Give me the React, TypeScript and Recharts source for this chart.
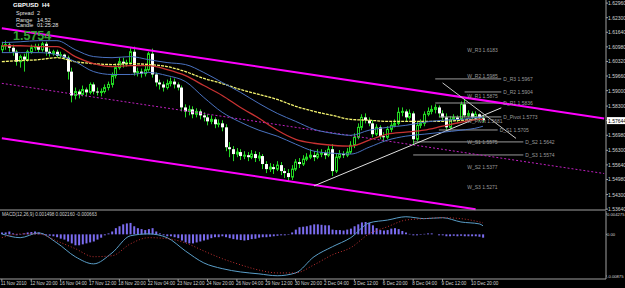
import React from 'react'
import { ComposedChart, Bar, Line, XAxis, YAxis, ReferenceLine, ReferenceDot } from 'recharts'

// GBPUSD H4, 11 Nov - 10 Dec 2010 (MT4 screenshot)
const SLOTS = 165 // 132 bars + empty chart shift on the right

const dateLabels = [
  '11 Nov 2010', '12 Nov 20:00', '16 Nov 04:00', '17 Nov 12:00', '18 Nov 20:00', '22 Nov 04:00',
  '23 Nov 12:00', '24 Nov 20:00', '26 Nov 04:00', '29 Nov 12:00', '30 Nov 20:00', '2 Dec 04:00',
  '3 Dec 12:00', '6 Dec 20:00', '8 Dec 04:00', '9 Dec 12:00', '10 Dec 20:00',
]
const dateIdx = [0, 8, 16, 24, 32, 40, 48, 56, 64, 72, 80, 88, 96, 104, 112, 120, 128]

const opens = [
  1.6085, 1.6103, 1.6108, 1.6094, 1.6076, 1.6031, 1.6054, 1.6040, 1.6076, 1.6094,
  1.6099, 1.6085, 1.6112, 1.6076, 1.6067, 1.6076, 1.6058, 1.6063, 1.6049, 1.5986,
  1.5878, 1.5896, 1.5883, 1.5905, 1.5892, 1.5928, 1.5896, 1.5892, 1.5896, 1.5914,
  1.5928, 1.5968, 1.6004, 1.6031, 1.6022, 1.6027, 1.6076, 1.5982, 1.5986, 1.5977,
  1.5995, 1.6067, 1.5973, 1.5937, 1.5928, 1.5914, 1.5932, 1.5941, 1.5928, 1.5914,
  1.5824, 1.5806, 1.5815, 1.5793, 1.5806, 1.5788, 1.5779, 1.5761, 1.5770, 1.5748,
  1.5752, 1.5734, 1.5644, 1.5635, 1.5613, 1.5622, 1.5604, 1.5608, 1.5599, 1.5613,
  1.5595, 1.5604, 1.5568, 1.5545, 1.5554, 1.5545, 1.5563, 1.5536, 1.5527, 1.5509,
  1.5545, 1.5577, 1.5568, 1.5590, 1.5599, 1.5608, 1.5599, 1.5613, 1.5617, 1.5608,
  1.5635, 1.5536, 1.5599, 1.5613, 1.5608, 1.5622, 1.5653, 1.5689, 1.5734, 1.5779,
  1.5766, 1.5752, 1.5703, 1.5734, 1.5694, 1.5689, 1.5725, 1.5743, 1.5752, 1.5802,
  1.5806, 1.5779, 1.5797, 1.5680, 1.5743, 1.5752, 1.5793, 1.5806, 1.5815, 1.5824,
  1.5797, 1.5779, 1.5734, 1.5770, 1.5779, 1.5770, 1.5838, 1.5788, 1.5797, 1.5779,
  1.5793, 1.5775,
]
const highs = [
  1.6121, 1.6126, 1.6117, 1.6108, 1.6085, 1.6063, 1.6067, 1.6085, 1.6108, 1.6112,
  1.6112, 1.6121, 1.6121, 1.6090, 1.6085, 1.6085, 1.6076, 1.6067, 1.6058, 1.6004,
  1.5914, 1.5905, 1.5923, 1.5914, 1.5937, 1.5937, 1.5914, 1.5910, 1.5928, 1.5941,
  1.5982, 1.6022, 1.6049, 1.6049, 1.6040, 1.6094, 1.6099, 1.6004, 1.6000, 1.6013,
  1.6076, 1.6090, 1.5982, 1.5950, 1.5941, 1.5950, 1.5959, 1.5955, 1.5937, 1.5923,
  1.5838, 1.5833, 1.5829, 1.5820, 1.5815, 1.5802, 1.5793, 1.5788, 1.5779, 1.5770,
  1.5766, 1.5748, 1.5667, 1.5649, 1.5640, 1.5635, 1.5626, 1.5622, 1.5631, 1.5626,
  1.5622, 1.5613, 1.5581, 1.5572, 1.5568, 1.5581, 1.5577, 1.5550, 1.5545, 1.5563,
  1.5590, 1.5595, 1.5608, 1.5617, 1.5635, 1.5626, 1.5635, 1.5635, 1.5631, 1.5649,
  1.5658, 1.5617, 1.5631, 1.5626, 1.5640, 1.5671, 1.5707, 1.5752, 1.5793, 1.5797,
  1.5779, 1.5766, 1.5748, 1.5743, 1.5712, 1.5739, 1.5757, 1.5770, 1.5824, 1.5824,
  1.5815, 1.5815, 1.5806, 1.5761, 1.5770, 1.5806, 1.5824, 1.5833, 1.5838, 1.5833,
  1.5811, 1.5797, 1.5784, 1.5793, 1.5788, 1.5851, 1.5860, 1.5811, 1.5806, 1.5806,
  1.5797, 1.5788,
]
const lows = [
  1.6072, 1.6085, 1.6076, 1.6058, 1.6013, 1.6004, 1.5986, 1.6031, 1.6067, 1.6081,
  1.6072, 1.6076, 1.6058, 1.6054, 1.6058, 1.6049, 1.6049, 1.6040, 1.5950, 1.5847,
  1.5860, 1.5865, 1.5874, 1.5874, 1.5883, 1.5883, 1.5878, 1.5874, 1.5887, 1.5901,
  1.5914, 1.5955, 1.5995, 1.6004, 1.6009, 1.6018, 1.5968, 1.5964, 1.5959, 1.5964,
  1.5986, 1.5959, 1.5919, 1.5905, 1.5896, 1.5905, 1.5919, 1.5910, 1.5901, 1.5806,
  1.5779, 1.5788, 1.5775, 1.5779, 1.5770, 1.5761, 1.5743, 1.5748, 1.5730, 1.5734,
  1.5716, 1.5626, 1.5599, 1.5581, 1.5599, 1.5586, 1.5590, 1.5581, 1.5590, 1.5577,
  1.5581, 1.5545, 1.5527, 1.5532, 1.5523, 1.5536, 1.5518, 1.5505, 1.5491, 1.5496,
  1.5536, 1.5550, 1.5559, 1.5581, 1.5590, 1.5581, 1.5590, 1.5599, 1.5590, 1.5599,
  1.5514, 1.5527, 1.5590, 1.5595, 1.5599, 1.5613, 1.5640, 1.5680, 1.5721, 1.5752,
  1.5739, 1.5689, 1.5694, 1.5680, 1.5667, 1.5680, 1.5712, 1.5734, 1.5743, 1.5784,
  1.5761, 1.5770, 1.5658, 1.5671, 1.5730, 1.5739, 1.5784, 1.5793, 1.5797, 1.5779,
  1.5766, 1.5721, 1.5725, 1.5761, 1.5757, 1.5766, 1.5779, 1.5779, 1.5766, 1.5770,
  1.5761, 1.5757,
]
const closes = [
  1.6103, 1.6108, 1.6094, 1.6076, 1.6031, 1.6054, 1.6040, 1.6076, 1.6094, 1.6099,
  1.6085, 1.6112, 1.6076, 1.6067, 1.6076, 1.6058, 1.6063, 1.6049, 1.5986, 1.5878,
  1.5896, 1.5883, 1.5905, 1.5892, 1.5928, 1.5896, 1.5892, 1.5896, 1.5914, 1.5928,
  1.5968, 1.6004, 1.6031, 1.6022, 1.6027, 1.6076, 1.5982, 1.5986, 1.5977, 1.5995,
  1.6067, 1.5973, 1.5937, 1.5928, 1.5914, 1.5932, 1.5941, 1.5928, 1.5914, 1.5824,
  1.5806, 1.5815, 1.5793, 1.5806, 1.5788, 1.5779, 1.5761, 1.5770, 1.5748, 1.5752,
  1.5734, 1.5644, 1.5635, 1.5613, 1.5622, 1.5604, 1.5608, 1.5599, 1.5613, 1.5595,
  1.5604, 1.5568, 1.5545, 1.5554, 1.5545, 1.5563, 1.5536, 1.5527, 1.5509, 1.5545,
  1.5577, 1.5568, 1.5590, 1.5599, 1.5608, 1.5599, 1.5613, 1.5617, 1.5608, 1.5635,
  1.5536, 1.5599, 1.5613, 1.5608, 1.5622, 1.5653, 1.5689, 1.5734, 1.5779, 1.5766,
  1.5752, 1.5703, 1.5734, 1.5694, 1.5689, 1.5725, 1.5743, 1.5752, 1.5802, 1.5806,
  1.5779, 1.5797, 1.5680, 1.5743, 1.5752, 1.5793, 1.5806, 1.5815, 1.5824, 1.5797,
  1.5779, 1.5734, 1.5770, 1.5779, 1.5770, 1.5838, 1.5788, 1.5797, 1.5779, 1.5793,
  1.5775, 1.5766,
]

// moving averages, read every 5 bars
const maIdx = [0, 5, 10, 15, 20, 25, 30, 35, 40, 45, 50, 55, 60, 65, 70, 75, 80, 85, 90, 95, 100, 105, 110, 115, 120, 125, 130, 131]
const maYellow = [1.6031, 1.6036, 1.6040, 1.6049, 1.6031, 1.6022, 1.6018, 1.6022, 1.6018, 1.6009, 1.5986, 1.5955, 1.5932, 1.5905, 1.5883, 1.5860, 1.5829, 1.5806, 1.5788, 1.5770, 1.5766, 1.5761, 1.5761, 1.5761, 1.5761, 1.5766, 1.5770, 1.5770]
const maRed = [1.6103, 1.6103, 1.6099, 1.6099, 1.6054, 1.6022, 1.6009, 1.6013, 1.6013, 1.5995, 1.5968, 1.5923, 1.5878, 1.5824, 1.5775, 1.5721, 1.5680, 1.5662, 1.5653, 1.5649, 1.5676, 1.5703, 1.5712, 1.5721, 1.5739, 1.5757, 1.5770, 1.5770]
const maBlueUp = [1.6117, 1.6121, 1.6126, 1.6126, 1.6085, 1.6054, 1.6049, 1.6054, 1.6040, 1.6027, 1.6018, 1.5982, 1.5937, 1.5892, 1.5842, 1.5797, 1.5761, 1.5725, 1.5707, 1.5698, 1.5721, 1.5734, 1.5743, 1.5757, 1.5766, 1.5770, 1.5779, 1.5779]
const maBlueDn = [1.6072, 1.6072, 1.6072, 1.6063, 1.6031, 1.5986, 1.5973, 1.5973, 1.5982, 1.5968, 1.5941, 1.5869, 1.5802, 1.5757, 1.5721, 1.5694, 1.5658, 1.5626, 1.5617, 1.5613, 1.5644, 1.5676, 1.5694, 1.5703, 1.5712, 1.5721, 1.5734, 1.5739]

// MACD(12,26,9)
const hist = [
  0.0004, 0.0004, 0.0006, 0.0002, -0.0002, -0.0001, 0.0002, 0.0004, 0.0005, 0.0006,
  0.0004, 0.0002, -0.0002, -0.0003, -0.0004, -0.0006, -0.0009, -0.0011, -0.0015, -0.0019,
  -0.0023, -0.0023, -0.0021, -0.0019, -0.0017, -0.0015, -0.0011, -0.0007, -0.0002, 0.0002,
  0.0006, 0.0013, 0.0017, 0.0021, 0.0023, 0.0024, 0.0017, 0.0013, 0.0011, 0.0009,
  0.0011, 0.0013, 0.0006, 0.0002, -0.0002, -0.0004, -0.0004, -0.0006, -0.0008, -0.0013,
  -0.0017, -0.0019, -0.0019, -0.0017, -0.0015, -0.0013, -0.0011, -0.0008, -0.0006, -0.0006,
  -0.0004, -0.0006, -0.0008, -0.0010, -0.0011, -0.0012, -0.0013, -0.0012, -0.0010, -0.0009,
  -0.0007, -0.0006, -0.0006, -0.0005, -0.0004, -0.0003, -0.0002, -0.0002, -0.0001, 0.0004,
  0.0010, 0.0015, 0.0016, 0.0017, 0.0019, 0.0021, 0.0021, 0.0020, 0.0019, 0.0019,
  0.0010, 0.0009, 0.0009, 0.0008, 0.0010, 0.0012, 0.0017, 0.0021, 0.0025, 0.0026,
  0.0024, 0.0019, 0.0013, 0.0009, 0.0008, 0.0009, 0.0012, 0.0013, 0.0011, 0.0007,
  0.0004, 0.0001, -0.0002, -0.0002, -0.0001, 0.0001, 0.0002, 0.0002, 0.0000, -0.0002,
  -0.0002, -0.0004, -0.0004, -0.0003, -0.0004, -0.0003, -0.0004, -0.0004, -0.0004, -0.0004,
  -0.0005, -0.0007,
]
const macdMain = [0.0001, -0.0007, 0.0003, -0.0018, -0.0047, -0.0062, -0.0039, -0.0003, 0.0001, -0.0007, -0.0035, -0.0060, -0.0072, -0.0079, -0.0083, -0.0087, -0.0081, -0.0047, -0.0026, -0.0007, 0.0024, 0.0030, 0.0037, 0.0033, 0.0035, 0.0026, 0.0022, 0.0018]
const macdSignal = [-0.0007, 0.0001, 0.0001, -0.0014, -0.0030, -0.0047, -0.0045, -0.0020, -0.0007, -0.0009, -0.0018, -0.0035, -0.0051, -0.0064, -0.0075, -0.0081, -0.0081, -0.0064, -0.0043, -0.0028, 0.0001, 0.0016, 0.0030, 0.0033, 0.0035, 0.0033, 0.0026, 0.0024]

const priceTicks = [1.6296, 1.6230, 1.6164, 1.6098, 1.6032, 1.5966, 1.5900, 1.5830, 1.5698, 1.5630, 1.5564, 1.5498, 1.5430, 1.5364]
const priceTickLabels = ['1.62960', '1.62300', '1.61640', '1.60980', '1.60320', '1.59660', '1.59000', '1.58300', '1.56980', '1.56300', '1.55640', '1.54980', '1.54300', '1.53640']
const bid = 1.57644
const macdTicks = [0.004275, 0, -0.00875]
const macdTickLabels = ['0.004275', '0.00', '-0.00875']

// channel and trend lines: [bar, price] end points
const channelUp = [[0, 1.6182], [164, 1.5774]]
const channelMid = [[0, 1.5933], [164, 1.5525]]
const channelLow = [[0, 1.5685], [129, 1.5363]]
const trendUp = [[85, 1.5469], [136, 1.5822]]
const trendDown = [[120, 1.5935], [140, 1.5684]]

const dayLevels = [
  { name: 'D_R3 1.5967', price: 1.5953, from: 118, to: 136 },
  { name: 'D_R2 1.5904', price: 1.5894, from: 126, to: 136 },
  { name: 'D_R1 1.5836', price: 1.5844, from: 118, to: 136 },
  { name: 'D_Pivot 1.5773', price: 1.5781, from: 119, to: 136 },
  { name: 'D_S1 1.5705', price: 1.5722, from: 119, to: 135 },
  { name: 'D_S2 1.5642', price: 1.5668, from: 112, to: 142 },
  { name: 'D_S3 1.5574', price: 1.5609, from: 112, to: 142 },
]
const weekLabels = [
  { name: 'W_R3 1.6183', price: 1.6084 },
  { name: 'W_R2 1.5985', price: 1.5966 },
  { name: 'W_R1 1.5875', price: 1.5876 },
  { name: 'W_Pivot 1.5681', price: 1.5763 },
  { name: 'W_S1 1.5575', price: 1.5668 },
  { name: 'W_S2 1.5377', price: 1.5555 },
  { name: 'W_S3 1.5271', price: 1.5465 },
]
const weekLabelBar = 127

const FONT = '"Liberation Sans", Arial, sans-serif'
const WICK = '#22d822'
const FRAME = '#a0a0a0'
const AXIS_TEXT = '#d4d4d4'
const PIVOT = '#9a9a9a'

const rows = Array.from({ length: SLOTS }, (_, i) => {
  const r: any = { i }
  if (i < closes.length) {
    r.o = opens[i]
    r.h = highs[i]
    r.l = lows[i]
    r.c = closes[i]
    r.range = [lows[i], highs[i]]
    r.hist = hist[i]
  }
  const k = maIdx.indexOf(i)
  if (k >= 0) {
    r.maY = maYellow[k]
    r.maR = maRed[k]
    r.maBU = maBlueUp[k]
    r.maBD = maBlueDn[k]
    r.macd = macdMain[k]
    r.sig = macdSignal[k]
  }
  return r
})

function Candle(props: any) {
  const { x, y, width, height, payload } = props
  if (!payload || payload.o == null) return null
  const top = Math.min(y, y + height)
  const h = Math.abs(height)
  const k = h / (payload.h - payload.l || 1)
  const yo = top + (payload.h - payload.o) * k
  const yc = top + (payload.h - payload.c) * k
  const cx = Math.round(x + width / 2) + 0.5
  const bull = payload.c > payload.o
  const bTop = Math.min(yo, yc)
  const bH = Math.max(1, Math.abs(yc - yo))
  return (
    <g>
      <line x1={cx} x2={cx} y1={top} y2={top + h} stroke={WICK} strokeWidth={1} />
      {bull ? (
        <rect x={cx - 1} y={bTop} width={2} height={bH} fill="#000" stroke={WICK} strokeWidth={1} />
      ) : (
        <rect x={cx - 1.5} y={bTop} width={3} height={bH} fill="#fff" />
      )}
    </g>
  )
}

function PriceTick(props: any) {
  const { x, y, payload } = props
  if (payload.value === bid) {
    return (
      <g>
        <rect x={x - 1} y={y - 3.5} width={19} height={7} fill="#fff" />
        <text x={x} y={y + 2} fontSize={5} fill="#000" fontFamily={FONT}>1.57644</text>
      </g>
    )
  }
  const k = priceTicks.indexOf(payload.value)
  return <text x={x} y={y + 2} fontSize={5} fill={AXIS_TEXT} fontFamily={FONT}>{priceTickLabels[k]}</text>
}

function MacdTick(props: any) {
  const { x, y, payload } = props
  const k = macdTicks.indexOf(payload.value)
  return <text x={x} y={y + 1.8} fontSize={4.2} fill={AXIS_TEXT} fontFamily={FONT}>{macdTickLabels[k]}</text>
}

function DateTick(props: any) {
  const { x, y, payload } = props
  const k = dateIdx.indexOf(payload.value)
  return <text x={x - 1} y={y + 4} fontSize={4.6} fill={AXIS_TEXT} fontFamily={FONT}>{dateLabels[k]}</text>
}

const seg = (p: number[][]) => [{ x: p[0][0], y: p[0][1] }, { x: p[1][0], y: p[1][1] }]

export default function App() {
  return (
    <div style={{ position: 'absolute', left: 0, top: 0, width: 625, height: 288, background: '#000', overflow: 'hidden', fontFamily: FONT }}>
      <div style={{ position: 'absolute', left: 0, top: 0 }}>
        <ComposedChart width={625} height={211} data={rows} margin={{ top: 0, right: 0, bottom: 0, left: 0 }}>
          <XAxis dataKey="i" height={1} tick={false} tickLine={false} axisLine={{ stroke: FRAME }} />
          <YAxis orientation="right" width={19} domain={[1.536, 1.631]} allowDataOverflow
            ticks={[...priceTicks, bid]} interval={0} tick={PriceTick} tickSize={2} tickMargin={0}
            tickLine={{ stroke: FRAME }} axisLine={{ stroke: FRAME }} />
          {weekLabels.map((w) => (
            <ReferenceDot key={w.name} x={weekLabelBar} y={w.price} r={0}
              shape={(p: any) => <text x={p.cx - 1} y={p.cy + 2} fontSize={5} fill={PIVOT} fontFamily={FONT}>{w.name}</text>} />
          ))}
          {dayLevels.map((d) => (
            <ReferenceLine key={d.name} segment={[{ x: d.from, y: d.price }, { x: d.to, y: d.price }]} stroke={PIVOT} strokeWidth={1} />
          ))}
          {dayLevels.map((d) => (
            <ReferenceDot key={d.name + 't'} x={d.to} y={d.price} r={0}
              shape={(p: any) => <text x={p.cx + 2} y={p.cy + 2} fontSize={5} fill={PIVOT} fontFamily={FONT}>{d.name}</text>} />
          ))}
          <ReferenceLine segment={seg(channelUp)} stroke="#ff00ff" strokeWidth={2} />
          <ReferenceLine segment={seg(channelMid)} stroke="#c020c0" strokeWidth={1} strokeDasharray="2 2" />
          <ReferenceLine segment={seg(channelLow)} stroke="#ff00ff" strokeWidth={2} />
          <ReferenceLine segment={seg(trendUp)} stroke="#e0e0e0" strokeWidth={1} />
          <ReferenceLine segment={seg(trendDown)} stroke="#c8c8c8" strokeWidth={1} />
          <Line dataKey="maY" type="monotone" stroke="#f4f470" strokeWidth={1.3} strokeDasharray="3 1" dot={false} activeDot={false} connectNulls isAnimationActive={false} />
          <Line dataKey="maBU" type="monotone" stroke="#4a72c0" strokeWidth={1} dot={false} activeDot={false} connectNulls isAnimationActive={false} />
          <Line dataKey="maBD" type="monotone" stroke="#4a72c0" strokeWidth={1} dot={false} activeDot={false} connectNulls isAnimationActive={false} />
          <Line dataKey="maR" type="monotone" stroke="#c83232" strokeWidth={1.3} dot={false} activeDot={false} connectNulls isAnimationActive={false} />
          <Bar dataKey="range" barSize={3} shape={Candle} isAnimationActive={false} />
        </ComposedChart>
      </div>
      <div style={{ position: 'absolute', left: 0, top: 211 }}>
        <ComposedChart width={625} height={77} data={rows} margin={{ top: 0, right: 0, bottom: 0, left: 0 }}>
          <XAxis dataKey="i" height={9} ticks={dateIdx} interval={0} tick={DateTick} tickSize={2} tickMargin={0}
            tickLine={{ stroke: FRAME }} axisLine={{ stroke: FRAME }} />
          <YAxis orientation="right" width={19} domain={[-0.00938, 0.004905]} allowDataOverflow
            ticks={macdTicks} interval={0} tick={MacdTick} tickSize={1} tickMargin={0}
            tickLine={{ stroke: FRAME }} axisLine={{ stroke: FRAME }} />
          <Bar dataKey="hist" barSize={2} fill="#7b6cf0" isAnimationActive={false} />
          <Line dataKey="macd" type="monotone" stroke="#5a9ec8" strokeWidth={1} dot={false} activeDot={false} connectNulls isAnimationActive={false} />
          <Line dataKey="sig" type="monotone" stroke="#c03030" strokeWidth={1} strokeDasharray="1 2" dot={false} activeDot={false} connectNulls isAnimationActive={false} />
        </ComposedChart>
      </div>

      <div style={{ position: 'absolute', left: 13, top: 2, fontSize: 6, fontWeight: 'bold', color: '#fff', lineHeight: 1, whiteSpace: 'pre' }}>GBPUSD  H4</div>
      <div style={{ position: 'absolute', left: 16, top: 11.3, fontSize: 5.5, color: '#e0e0e0', lineHeight: 1 }}>Spread</div>
      <div style={{ position: 'absolute', left: 37, top: 11.3, fontSize: 5.5, color: '#e0e0e0', lineHeight: 1 }}>2</div>
      <div style={{ position: 'absolute', left: 16, top: 17.5, fontSize: 5.5, color: '#e0e0e0', lineHeight: 1 }}>Range</div>
      <div style={{ position: 'absolute', left: 37, top: 17.5, fontSize: 5.5, color: '#e0e0e0', lineHeight: 1 }}>14,52</div>
      <div style={{ position: 'absolute', left: 16, top: 22.6, fontSize: 5.5, color: '#e0e0e0', lineHeight: 1 }}>Candle</div>
      <div style={{ position: 'absolute', left: 37, top: 22.6, fontSize: 5.5, color: '#e0e0e0', lineHeight: 1 }}>01:25:28</div>
      <div style={{ position: 'absolute', left: 13, top: 30.4, fontSize: 12.5, fontWeight: 'bold', color: '#34a334', lineHeight: 1 }}>1.5754</div>
      <div style={{ position: 'absolute', left: 2, top: 213, fontSize: 4.6, color: '#d0d0d0', lineHeight: 1, whiteSpace: 'pre' }}>MACD(12,26,9) 0.001498 0.002160 -0.000663</div>
    </div>
  )
}
